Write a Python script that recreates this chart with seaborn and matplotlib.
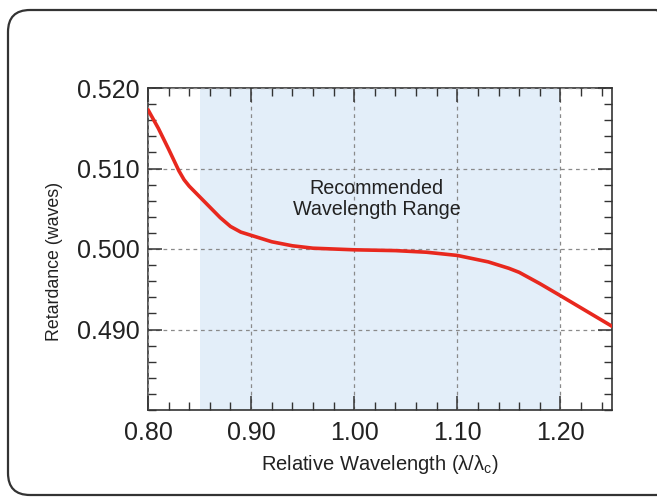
import matplotlib
matplotlib.use("Agg")
import matplotlib.pyplot as plt
import matplotlib.patches as patches
from matplotlib.ticker import MultipleLocator
import seaborn as sns
import pandas as pd

# Data
wavelength = [0.80, 0.81, 0.82, 0.83, 0.835, 0.84, 0.85, 0.86, 0.87, 0.88, 0.89,
              0.90, 0.92, 0.94, 0.96, 0.98, 1.00, 1.04, 1.07, 1.10, 1.13, 1.15,
              1.16, 1.17, 1.18, 1.20, 1.225, 1.25]
retardance = [0.5173, 0.5150, 0.5124, 0.5097, 0.5086, 0.5078, 0.5065, 0.5052,
              0.5039, 0.5028, 0.5021, 0.5017, 0.5009, 0.5004, 0.5001, 0.5000,
              0.4999, 0.4998, 0.4996, 0.4992, 0.4984, 0.4976, 0.4971, 0.4964,
              0.4957, 0.4942, 0.4923, 0.4904]
range_start, range_end = 0.85, 1.20
x_ticks = [0.80, 0.90, 1.00, 1.10, 1.20]
x_tick_labels = ["0.80", "0.90", "1.00", "1.10", "1.20"]
y_ticks = [0.490, 0.500, 0.510, 0.520]
y_tick_labels = ["0.490", "0.500", "0.510", "0.520"]

sns.set_style("white")
plt.rcParams['font.family'] = ['Liberation Sans', 'DejaVu Sans']

df = pd.DataFrame({"wl": wavelength, "ret": retardance})

fig = plt.figure(figsize=(6.57, 4.99), dpi=100)
ax = fig.add_axes([148/657, 1-410/499, (612-148)/657, (410-88)/499])

ax.axvspan(range_start, range_end, color="#e3eef9", zorder=0, lw=0)
sns.lineplot(data=df, x="wl", y="ret", ax=ax, color="#e8281e", lw=2.6, zorder=3)
ax.lines[-1].set_solid_joinstyle("round")

ax.set_xlim(0.80, 1.25)
ax.set_ylim(0.480, 0.520)
ax.set_xticks(x_ticks)
ax.set_xticklabels(x_tick_labels)
ax.set_yticks(y_ticks)
ax.set_yticklabels(y_tick_labels)
ax.xaxis.set_minor_locator(MultipleLocator(0.02))
ax.yaxis.set_minor_locator(MultipleLocator(0.002))
ax.tick_params(which="both", direction="in", top=True, right=True, bottom=True, left=True,
               color="#333333")
ax.tick_params(which="major", length=10, width=1.1, labelsize=18, pad=8, labelcolor="#222222")
ax.tick_params(which="minor", length=5.5, width=1.0)
ax.tick_params(axis="y", which="major", pad=6)

for s in ax.spines.values():
    s.set_color("#333333")
    s.set_linewidth(1.2)

ax.grid(True, which="major", color="#8a8a8a", linestyle=(0, (3, 3)), linewidth=0.9, zorder=1)
ax.set_axisbelow(False)
for gl in ax.get_xgridlines() + ax.get_ygridlines():
    gl.set_zorder(1)

ax.set_xlabel("Relative Wavelength (λ/λ$_\\mathregular{c}$)", fontsize=14.5, color="#222222", labelpad=6)
ax.set_ylabel("Retardance (waves)", fontsize=12.8, color="#222222")
ax.yaxis.set_label_coords(-0.183, 0.46)

ax.text(1.022, 0.5062, "Recommended\nWavelength Range", ha="center", va="center",
        fontsize=14.2, color="#222222", linespacing=1.1, zorder=4)

border = patches.FancyBboxPatch((0.08, 0.04), 6.7, 4.85,
                                boxstyle="round,pad=0,rounding_size=0.22",
                                transform=fig.dpi_scale_trans, fill=False,
                                edgecolor="#333333", linewidth=1.6, clip_on=False)
fig.patches.append(border)

fig.savefig("out.png", dpi=100)
